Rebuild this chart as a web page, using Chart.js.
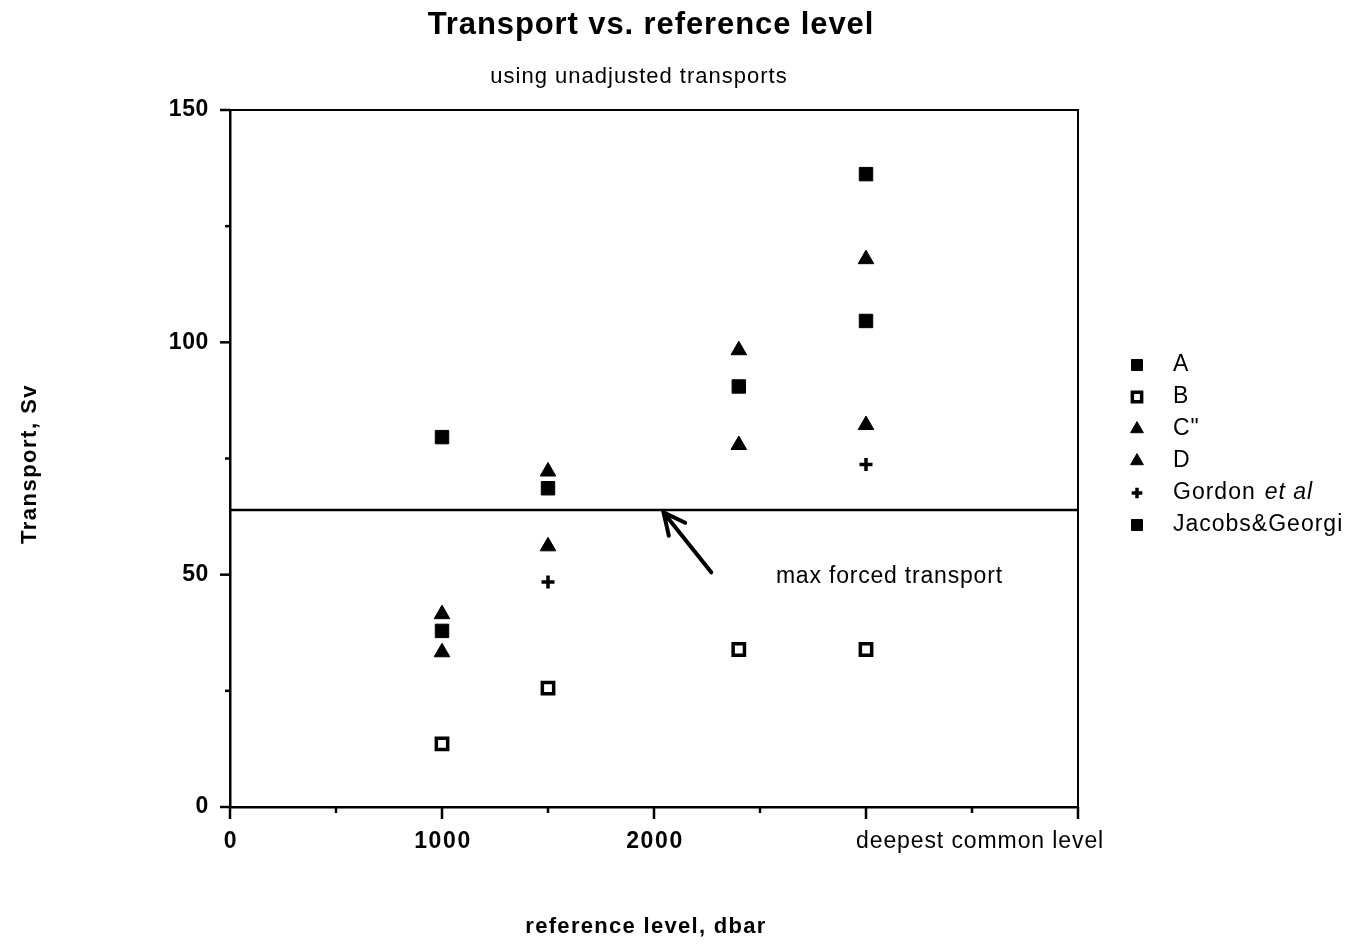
<!DOCTYPE html>
<html>
<head>
<meta charset="utf-8">
<title>Transport vs. reference level</title>
<script src="https://cdn.jsdelivr.net/npm/chart.js@4.4.1/dist/chart.umd.min.js"></script>
<style>
  html, body { margin: 0; padding: 0; background: #fff; }
  #wrap { width: 1351px; height: 944px; position: relative; }
</style>
</head>
<body>
<div id="wrap"><canvas id="transportChart"></canvas></div>
<script>
// reference levels (dbar) and transports (Sv)
const levels = [1000, 1500, 2400, 3000];
const transportA = [37.9, 68.6, 90.5, 104.6];
const transportB = [13.6, 25.6, 33.9, 33.9];
const transportC = [41.5, 72.2, 98.3, 117.9];
const transportD = [33.3, 56.1, 77.9, 82.2];
const gordonLevels = [1500, 3000];
const transportGordon = [48.4, 73.7];
const jacobsLevels = [1000, 3000];
const transportJacobs = [79.6, 136.2];
const maxForced = 63.9;

const xTicks = [0, 1000, 2000, 3000];
const xTickLabels = ['0', '1000', '2000', 'deepest common level'];
const yTicks = [0, 50, 100, 150];

const FONT = '"Liberation Sans", Arial, Helvetica, sans-serif';

function toPoints(xs, ys) {
  return xs.map((x, i) => ({ x: x, y: ys[i] }));
}

function markerSet(style) {
  if (style === 'filledSquare') {
    return { pointStyle: 'rect', pointRadius: 9.5, backgroundColor: '#000', borderColor: '#000', borderWidth: 1 };
  }
  if (style === 'openSquare') {
    return { pointStyle: 'rect', pointRadius: 8, backgroundColor: '#fff', borderColor: '#000', borderWidth: 3.5 };
  }
  if (style === 'triangle') {
    return { pointStyle: 'triangle', pointRadius: 9, backgroundColor: '#000', borderColor: '#000', borderWidth: 1 };
  }
  return { pointStyle: 'cross', pointRadius: 6.5, backgroundColor: '#000', borderColor: '#000', borderWidth: 3.5 };
}

const datasets = [
  Object.assign({ label: 'A', data: toPoints(levels, transportA) }, markerSet('filledSquare')),
  Object.assign({ label: 'B', data: toPoints(levels, transportB) }, markerSet('openSquare')),
  Object.assign({ label: 'C"', data: toPoints(levels, transportC) }, markerSet('triangle')),
  Object.assign({ label: 'D', data: toPoints(levels, transportD) }, markerSet('triangle')),
  Object.assign({ label: 'Gordon', italic: 'et al', data: toPoints(gordonLevels, transportGordon) }, markerSet('cross')),
  Object.assign({ label: 'Jacobs&Georgi', data: toPoints(jacobsLevels, transportJacobs) }, markerSet('filledSquare')),
  {
    type: 'line',
    label: 'max forced transport',
    hideInLegend: true,
    data: [{ x: 0, y: maxForced }, { x: 4000, y: maxForced }],
    borderColor: '#000',
    borderWidth: 2.5,
    pointRadius: 0,
    fill: false
  }
];

function text(ctx, str, x, y, font, spacing) {
  ctx.font = font;
  ctx.letterSpacing = spacing + 'px';
  ctx.fillText(str, x, y);
  const w = ctx.measureText(str).width;
  ctx.letterSpacing = '0px';
  return w;
}

// frame, tick marks, labels, legend and the annotation arrow
const decorations = {
  id: 'decorations',
  afterDraw(chart) {
    const ctx = chart.ctx;
    const area = chart.chartArea;
    const xs = chart.scales.x;
    const ys = chart.scales.y;
    ctx.save();
    ctx.strokeStyle = '#000';
    ctx.fillStyle = '#000';

    // top and right frame
    ctx.lineWidth = 2;
    ctx.beginPath();
    ctx.moveTo(area.left, area.top);
    ctx.lineTo(area.right, area.top);
    ctx.lineTo(area.right, area.bottom);
    ctx.stroke();

    // tick marks
    ctx.lineWidth = 2.5;
    for (let v = 0; v <= 4000; v += 500) {
      const px = xs.getPixelForValue(v);
      const len = v % 1000 === 0 ? 12 : 6;
      ctx.beginPath();
      ctx.moveTo(px, area.bottom);
      ctx.lineTo(px, area.bottom + len);
      ctx.stroke();
    }
    for (let v = 0; v <= 150; v += 25) {
      const py = ys.getPixelForValue(v);
      const len = v % 50 === 0 ? 10 : 5;
      ctx.beginPath();
      ctx.moveTo(area.left, py);
      ctx.lineTo(area.left - len, py);
      ctx.stroke();
    }

    // y tick labels
    ctx.textBaseline = 'middle';
    ctx.textAlign = 'right';
    yTicks.forEach((v) => {
      text(ctx, String(v), area.left - 21, ys.getPixelForValue(v), 'bold 23px ' + FONT, 0.6);
    });

    // x tick labels
    xTicks.forEach((v, i) => {
      const px = xs.getPixelForValue(v);
      if (i === xTicks.length - 1) {
        ctx.textAlign = 'left';
        text(ctx, xTickLabels[i], px - 10, area.bottom + 35, '23px ' + FONT, 0.9);
      } else {
        ctx.textAlign = 'center';
        text(ctx, xTickLabels[i], px + 1, area.bottom + 35, 'bold 23px ' + FONT, 1.6);
      }
    });

    // titles
    ctx.textAlign = 'center';
    text(ctx, 'Transport vs. reference level', 651, 25, 'bold 31px ' + FONT, 0.9);
    text(ctx, 'using unadjusted transports', 639, 77, '22px ' + FONT, 1);
    text(ctx, 'reference level, dbar', 646, 927, 'bold 22px ' + FONT, 1.3);
    ctx.save();
    ctx.translate(30, 464);
    ctx.rotate(-Math.PI / 2);
    text(ctx, 'Transport, Sv', 0, 0, 'bold 22px ' + FONT, 1.5);
    ctx.restore();

    // legend
    let row = 0;
    chart.data.datasets.forEach((ds) => {
      if (ds.hideInLegend) return;
      const ly = 365 + row * 32;
      const lx = area.right + 59;
      ctx.fillStyle = ds.backgroundColor;
      ctx.strokeStyle = ds.borderColor;
      ctx.lineWidth = ds.borderWidth;
      Chart.helpers.drawPoint(ctx, {
        pointStyle: ds.pointStyle,
        radius: ds.pointRadius * 0.82,
        rotation: 0,
        borderWidth: ds.borderWidth
      }, lx, ly);
      ctx.fillStyle = '#000';
      ctx.textAlign = 'left';
      const w = text(ctx, ds.label, area.right + 95, ly, '23px ' + FONT, 1);
      if (ds.italic) {
        text(ctx, ds.italic, area.right + 95 + w + 9, ly, 'italic 23px ' + FONT, 1);
      }
      row++;
    });

    // arrow pointing at the max forced transport line
    const tailX = xs.getPixelForValue(2270), tailY = ys.getPixelForValue(50.5);
    const tipX = xs.getPixelForValue(2045), tipY = ys.getPixelForValue(maxForced - 0.5);
    const ang = Math.atan2(tailY - tipY, tailX - tipX);
    ctx.strokeStyle = '#000';
    ctx.lineWidth = 4;
    ctx.lineCap = 'round';
    ctx.beginPath();
    ctx.moveTo(tailX, tailY);
    ctx.lineTo(tipX, tipY);
    ctx.moveTo(tipX + 24 * Math.cos(ang + 0.45), tipY + 24 * Math.sin(ang + 0.45));
    ctx.lineTo(tipX, tipY);
    ctx.lineTo(tipX + 24 * Math.cos(ang - 0.45), tipY + 24 * Math.sin(ang - 0.45));
    ctx.stroke();

    ctx.fillStyle = '#000';
    ctx.textAlign = 'left';
    text(ctx, 'max forced transport', xs.getPixelForValue(2575), ys.getPixelForValue(49.5), '23px ' + FONT, 0.8);
    ctx.restore();
  }
};

new Chart(document.getElementById('transportChart'), {
  type: 'scatter',
  data: { datasets: datasets },
  options: {
    responsive: true,
    maintainAspectRatio: false,
    animation: false,
    layout: { padding: { top: 110, right: 273, left: 0, bottom: 0 } },
    plugins: {
      legend: { display: false },
      title: { display: false },
      tooltip: { enabled: false }
    },
    scales: {
      x: {
        type: 'linear',
        min: 0,
        max: 4000,
        grid: { display: false },
        border: { display: true, color: '#000', width: 2.5 },
        ticks: { display: false },
        afterFit(scale) { scale.height = 137; }
      },
      y: {
        type: 'linear',
        min: 0,
        max: 150,
        grid: { display: false },
        border: { display: true, color: '#000', width: 2.5 },
        ticks: { display: false },
        afterFit(scale) { scale.width = 230; }
      }
    }
  },
  plugins: [decorations]
});
</script>
</body>
</html>
